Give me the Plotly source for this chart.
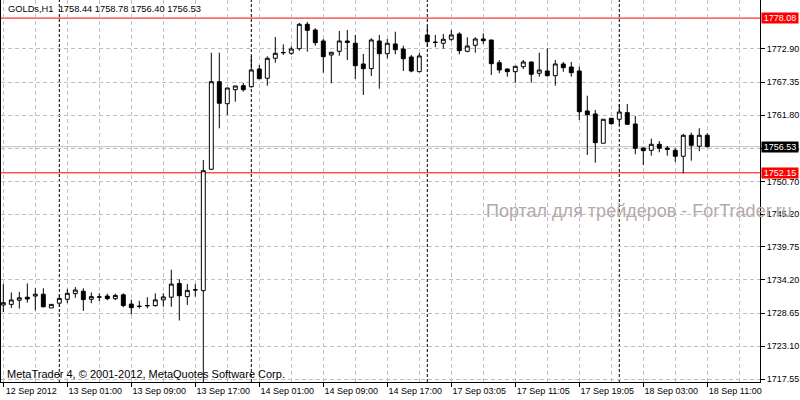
"""GOLDs H1 candlestick chart in the MetaTrader 4 look."""

import plotly.graph_objects as go

# hourly bars, 12 Sep 17:00 .. 18 Sep 11:00 (index 0 .. 88)
opens = [
    1729.99, 1730.10, 1730.80, 1731.30, 1731.50, 1731.80, 1729.50, 1730.30, 1730.95, 1731.90,
    1732.30, 1730.95, 1731.30, 1731.50, 1731.05, 1731.70, 1730.15, 1729.80, 1729.85, 1729.90,
    1730.85, 1731.30, 1733.60, 1731.40, 1732.50, 1732.40, 1752.74, 1767.42, 1763.73, 1766.08,
    1766.75, 1766.58, 1769.55, 1767.99, 1771.34, 1772.28, 1772.18, 1772.95, 1777.04, 1776.08,
    1774.24, 1771.89, 1772.51, 1774.24, 1773.86, 1770.39, 1769.60, 1774.24, 1772.11, 1773.74,
    1772.90, 1771.56, 1769.10, 1775.25, 1774.00, 1773.86, 1774.53, 1775.41, 1772.51, 1773.52,
    1774.58, 1774.41, 1770.60, 1769.55, 1769.10, 1769.93, 1770.72, 1768.83, 1769.21, 1768.43,
    1770.39, 1769.88, 1769.21, 1762.51, 1762.01, 1757.10, 1761.29, 1761.12, 1762.23, 1760.33,
    1756.31, 1755.92, 1756.93, 1756.30, 1755.92, 1754.92, 1758.44, 1756.60, 1758.44,
]
highs = [
    1733.52, 1732.10, 1732.20, 1733.60, 1732.80, 1732.80, 1730.10, 1731.70, 1732.70, 1733.00,
    1732.80, 1732.10, 1731.95, 1731.90, 1731.90, 1731.95, 1730.90, 1730.70, 1731.30, 1731.95,
    1731.95, 1735.90, 1734.30, 1733.50, 1733.50, 1754.30, 1772.28, 1772.28, 1766.36, 1766.70,
    1767.20, 1771.73, 1770.22, 1771.68, 1774.91, 1773.69, 1773.35, 1777.26, 1777.43, 1776.37,
    1774.58, 1772.35, 1775.92, 1776.08, 1775.25, 1772.06, 1774.69, 1775.25, 1774.58, 1775.80,
    1773.45, 1771.89, 1772.23, 1776.75, 1775.25, 1775.42, 1776.08, 1775.70, 1774.86, 1774.86,
    1775.53, 1774.41, 1771.06, 1769.60, 1770.00, 1771.06, 1770.80, 1772.28, 1773.00, 1771.06,
    1770.72, 1770.72, 1769.93, 1765.07, 1762.68, 1761.12, 1761.35, 1763.68, 1763.68, 1761.67,
    1756.40, 1757.87, 1757.48, 1756.65, 1756.26, 1758.66, 1758.88, 1759.61, 1758.78,
]
lows = [
    1728.82, 1729.50, 1729.40, 1730.40, 1729.10, 1729.60, 1729.50, 1729.70, 1730.30, 1731.20,
    1729.00, 1730.30, 1730.65, 1730.80, 1730.80, 1729.60, 1728.40, 1729.40, 1729.45, 1729.70,
    1729.70, 1729.70, 1727.40, 1730.00, 1731.40, 1716.90, 1752.60, 1759.60, 1761.84, 1764.07,
    1765.75, 1766.40, 1767.85, 1766.75, 1770.60, 1771.90, 1771.90, 1772.62, 1772.45, 1773.45,
    1768.93, 1767.15, 1771.78, 1771.06, 1767.87, 1765.19, 1768.38, 1766.25, 1771.34, 1772.01,
    1769.21, 1768.99, 1769.00, 1773.29, 1773.19, 1772.95, 1774.19, 1772.01, 1772.35, 1772.28,
    1773.74, 1768.54, 1768.83, 1768.26, 1767.25, 1769.55, 1767.25, 1768.26, 1768.26, 1766.75,
    1769.10, 1768.26, 1761.00, 1755.14, 1753.84, 1757.10, 1760.20, 1760.16, 1760.20, 1755.25,
    1753.46, 1755.02, 1755.59, 1755.02, 1754.00, 1752.07, 1754.18, 1755.76, 1756.40,
]
closes = [
    1730.38, 1730.84, 1731.20, 1731.00, 1731.80, 1729.70, 1730.10, 1731.10, 1731.95, 1732.50,
    1730.90, 1731.40, 1731.35, 1731.05, 1731.60, 1729.90, 1729.55, 1729.75, 1729.90, 1730.85,
    1731.35, 1733.50, 1731.55, 1732.45, 1732.55, 1752.50, 1767.42, 1763.80, 1766.36, 1766.70,
    1766.08, 1769.38, 1767.92, 1771.34, 1772.18, 1772.30, 1772.90, 1777.04, 1776.03, 1773.96,
    1771.61, 1772.35, 1774.24, 1774.00, 1770.10, 1769.60, 1774.41, 1772.11, 1773.86, 1772.78,
    1771.27, 1769.21, 1771.73, 1774.12, 1774.03, 1774.53, 1775.25, 1772.62, 1773.40, 1774.58,
    1774.29, 1770.44, 1769.38, 1769.10, 1770.00, 1770.72, 1768.66, 1769.38, 1768.43, 1770.39,
    1769.77, 1768.93, 1762.39, 1761.89, 1757.20, 1761.12, 1760.38, 1762.34, 1760.28, 1756.26,
    1755.86, 1756.93, 1756.26, 1756.08, 1754.92, 1758.44, 1756.76, 1758.44, 1756.53,
]

time_tick_bars = [0, 8, 16, 24, 32, 40, 48, 56, 64, 72, 80, 88]
time_tick_labels = [
    "12 Sep 2012", "13 Sep 01:00", "13 Sep 09:00", "13 Sep 17:00",
    "14 Sep 01:00", "14 Sep 09:00", "14 Sep 17:00", "17 Sep 03:05",
    "17 Sep 11:05", "17 Sep 19:05", "18 Sep 03:00", "18 Sep 11:00",
]
grid_bars = [4, 12, 20, 28, 36, 44, 52, 60, 68, 76, 84, 92]
day_breaks = [7, 31, 53, 77]

price_ticks = [1717.55, 1723.10, 1728.65, 1734.20, 1739.75, 1745.20,
               1750.70, 1756.25, 1761.80, 1767.35, 1772.90]
price_labels = ["%.2f" % p for p in price_ticks]

high_level = 1778.08
low_level = 1752.15
bid = 1756.53

bars = list(range(len(opens)))

FONT = "Liberation Sans"

fig = go.Figure(
    go.Candlestick(
        x=bars,
        open=opens,
        high=highs,
        low=lows,
        close=closes,
        increasing={"line": {"color": "black", "width": 1}, "fillcolor": "white"},
        decreasing={"line": {"color": "black", "width": 1}, "fillcolor": "black"},
        whiskerwidth=0,
        showlegend=False,
        hoverinfo="skip",
    )
)

# day separators
for b in day_breaks:
    fig.add_vline(x=b, line={"color": "black", "width": 1, "dash": "3px,2px"}, layer="below")

# levels
fig.add_hline(y=bid, line={"color": "#c0c0c0", "width": 1}, layer="below")
for lvl in (high_level, low_level):
    fig.add_hline(y=lvl, line={"color": "#ff0000", "width": 1}, layer="below")

# price tags on the right scale
for lvl, bg in [(high_level, "#ff0000"), (bid, "#000000"), (low_level, "#ff0000")]:
    fig.add_annotation(
        x=1, xref="paper", xanchor="left", xshift=1,
        y=lvl, yref="y", yanchor="middle",
        text="%.2f" % lvl, showarrow=False,
        font={"family": FONT, "size": 9, "color": "white"},
        bgcolor=bg, width=36, height=10, borderpad=0,
    )

fig.add_annotation(
    x=0, xref="paper", xanchor="left", xshift=5,
    y=1, yref="paper", yanchor="top", yshift=-2,
    text="GOLDs,H1 \u00a0%.2f %.2f %.2f %.2f" % (opens[-1], highs[-1], lows[-1], closes[-1]),
    showarrow=False, font={"family": FONT, "size": 9.3, "color": "black"},
)
fig.add_annotation(
    x=0, xref="paper", xanchor="left", xshift=4,
    y=0, yref="paper", yanchor="bottom", yshift=0,
    text="MetaTrader 4, © 2001-2012, MetaQuotes Software Corp.",
    showarrow=False, font={"family": FONT, "size": 11, "color": "black"},
)
fig.add_annotation(
    x=0.636, xref="paper", xanchor="left",
    y=0.448, yref="paper", yanchor="middle",
    text="Портал для трейдеров - ForTrader.ru",
    showarrow=False, font={"family": FONT, "size": 18, "color": "#b4aaaa"},
)

fig.update_layout(
    width=800,
    height=400,
    margin={"l": 1, "r": 40, "t": 0, "b": 18},
    paper_bgcolor="white",
    plot_bgcolor="white",
    font={"family": FONT, "size": 9, "color": "black"},
    xaxis={
        "range": [-0.29, 94.59],
        "rangeslider": {"visible": False},
        "tickmode": "array",
        "tickvals": time_tick_bars,
        "ticktext": time_tick_labels,
        "ticks": "outside",
        "ticklen": 4,
        "tickcolor": "black",
        "ticklabelshift": 28,
        "ticklabelstandoff": -4,
        "showline": True,
        "linecolor": "black",
        "linewidth": 1,
        "showgrid": True,
        "gridcolor": "#c0c0c0",
        "griddash": "4px,3px",
        "zeroline": False,
        "minor": {
            "tickmode": "array",
            "tickvals": grid_bars,
            "showgrid": True,
            "gridcolor": "#c0c0c0",
            "griddash": "4px,3px",
            "ticklen": 0,
        },
    },
    yaxis={
        "side": "right",
        "range": [1717.09, 1781.11],
        "tickmode": "array",
        "tickvals": price_ticks,
        "ticktext": price_labels,
        "ticks": "outside",
        "ticklen": 4,
        "tickcolor": "black",
        "showline": True,
        "mirror": True,
        "linecolor": "black",
        "linewidth": 1,
        "showgrid": True,
        "gridcolor": "#c0c0c0",
        "griddash": "4px,3px",
        "zeroline": False,
    },
)

fig.write_html(
    "out.html",
    config={"displayModeBar": False},
    post_script="document.body.style.margin = '0';",
)
